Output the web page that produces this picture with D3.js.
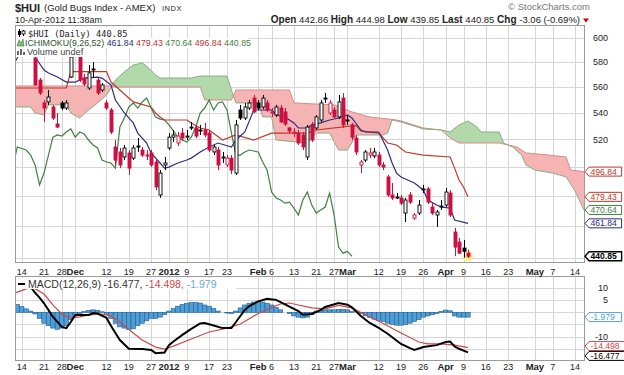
<!DOCTYPE html>
<html>
<head>
<meta charset="utf-8">
<script src="https://d3js.org/d3.v7.min.js"></script>
<style>
  body { margin: 0; background: #fff; }
  svg text { font-family: "Liberation Sans", Arial, sans-serif; fill: #222; }
</style>
</head>
<body>
<div id="chart"></div>
<script>
// ---- data ----
const holidays = ['11/24', '12/26', '1/2', '1/16', '2/20', '4/6'];

const candleStart = '11/11';
const opens = [
  602.6, 602.6, 594.1, 596.6, 583.3, 565.4, 547.4, 548.2, 544.3, 531.4,
  547.4, 543.5, 567.8, 588.2, 585.8, 567.0, 559.1, 573.5, 565.4, 557.5,
  547.4, 542.0, 514.4, 510.8, 507.2, 510.1, 506.4, 515.1, 512.2, 508.6,
  510.1, 503.6, 480.7, 501.5, 513.7, 521.6, 517.3, 524.6, 521.6, 528.4,
  528.4, 526.9, 526.9, 524.6, 510.8, 512.2, 506.4, 501.5, 506.4, 495.8,
  542.0, 535.9, 543.5, 551.2, 547.4, 544.3, 547.4, 540.5, 538.2, 543.5,
  540.5, 528.4, 524.6, 524.6, 523.2, 507.2, 530.7, 528.4, 534.4, 551.2,
  539.7, 542.0, 536.7, 551.2, 534.4, 530.7, 520.9, 501.5, 505.0, 508.6,
  507.9, 508.6, 501.5, 493.1, 480.7, 479.3, 478.7, 468.6, 480.7, 465.3,
  468.6, 484.1, 484.8, 472.6, 467.3, 472.6, 473.9, 482.0, 456.2, 449.8,
  446.0, 442.86
];
const highs = [
  606.8, 604.3, 600.0, 600.0, 585.8, 567.0, 549.7, 557.5, 545.9, 539.7,
  548.9, 549.7, 585.8, 591.6, 588.2, 570.3, 577.5, 580.0, 567.0, 563.0,
  549.7, 543.5, 519.5, 513.7, 515.9, 512.2, 515.9, 521.0, 514.4, 512.2,
  512.2, 505.0, 497.9, 507.2, 524.6, 526.9, 525.4, 528.4, 526.9, 532.9,
  530.7, 530.7, 532.2, 526.9, 515.9, 514.4, 510.8, 508.6, 508.6, 534.4,
  545.9, 547.4, 549.7, 553.6, 549.7, 553.6, 549.7, 543.5, 545.9, 545.9,
  543.5, 529.1, 528.4, 526.9, 525.4, 530.7, 532.9, 538.2, 549.7, 555.2,
  549.7, 544.3, 553.6, 555.2, 538.2, 532.2, 523.2, 505.0, 512.2, 513.7,
  513.7, 510.8, 503.6, 494.5, 488.9, 482.0, 480.7, 478.7, 482.7, 468.6,
  477.3, 487.6, 486.2, 475.2, 470.6, 477.3, 485.5, 484.1, 458.8, 452.4,
  451.1, 444.98
];
const lows = [
  596.6, 591.6, 589.9, 585.8, 560.7, 553.6, 532.9, 545.9, 534.4, 528.4,
  542.0, 542.0, 567.0, 585.0, 563.8, 560.7, 557.5, 567.0, 553.6, 555.9,
  542.0, 523.9, 501.5, 499.3, 505.0, 494.5, 505.0, 510.8, 507.2, 505.0,
  500.0, 484.1, 478.7, 497.9, 512.2, 518.0, 515.1, 518.8, 519.5, 526.9,
  520.9, 523.2, 521.6, 510.8, 508.6, 497.9, 502.9, 500.0, 495.1, 494.5,
  534.4, 534.4, 542.0, 539.7, 542.0, 542.8, 540.5, 536.7, 536.7, 532.2,
  529.9, 524.6, 521.6, 515.9, 512.2, 505.0, 518.0, 526.9, 532.9, 547.4,
  538.2, 535.9, 535.1, 528.4, 530.7, 519.5, 508.6, 495.8, 503.6, 506.4,
  506.4, 500.0, 497.9, 479.3, 477.3, 478.0, 473.9, 462.7, 474.6, 464.0,
  467.3, 482.0, 474.6, 467.3, 459.5, 470.6, 472.6, 466.0, 440.9, 442.2,
  440.0, 439.85
];
const closes = [
  604.3, 594.1, 598.3, 588.2, 561.5, 555.2, 543.5, 552.0, 535.9, 529.1,
  543.5, 547.4, 584.1, 586.6, 565.4, 562.2, 571.1, 574.3, 555.2, 561.5,
  543.5, 525.4, 505.0, 501.5, 513.7, 499.3, 513.7, 514.4, 508.6, 507.9,
  501.5, 486.2, 495.8, 502.9, 521.6, 523.2, 522.4, 520.9, 522.4, 529.1,
  522.4, 526.2, 523.2, 512.2, 514.4, 501.5, 507.2, 506.4, 497.9, 530.7,
  535.9, 544.3, 547.4, 540.5, 543.5, 551.2, 542.0, 539.7, 544.3, 532.9,
  531.4, 526.2, 525.4, 517.3, 514.4, 529.1, 519.5, 536.7, 547.4, 550.5,
  547.4, 536.7, 548.2, 530.7, 533.7, 521.6, 510.8, 503.6, 510.8, 510.1,
  510.8, 501.5, 500.0, 480.7, 478.7, 479.3, 475.2, 477.3, 475.9, 467.3,
  473.9, 484.8, 475.9, 468.6, 469.3, 473.2, 482.7, 467.3, 446.6, 442.8,
  443.91, 440.85
];

// Ichimoku lines, [date, value]
const tenkan = [
  ['11/10', 576.7], ['11/14', 589.9], ['11/15', 594.1], ['11/16', 591.6], ['11/17', 584.1],
  ['11/21', 573.5], ['11/22', 571.1], ['11/25', 567.8], ['11/29', 563.8], ['12/1', 563.8],
  ['12/5', 567.0], ['12/8', 567.8], ['12/9', 567.0], ['12/13', 561.5], ['12/14', 549.7],
  ['12/16', 539.7], ['12/20', 532.2], ['12/21', 524.6], ['12/23', 517.3], ['12/27', 510.1],
  ['12/29', 502.9], ['12/30', 499.3], ['1/3', 500.0], ['1/5', 502.9], ['1/9', 505.0],
  ['1/10', 506.4], ['1/12', 510.8], ['1/17', 514.4], ['1/19', 517.3], ['1/24', 514.4],
  ['1/25', 519.5], ['1/27', 525.4], ['1/31', 542.0], ['2/6', 542.0], ['2/7', 538.2],
  ['2/9', 536.7], ['2/13', 532.2], ['2/14', 528.4], ['2/16', 528.4], ['2/17', 530.7],
  ['2/22', 532.2], ['2/24', 534.4], ['2/28', 535.9], ['3/1', 538.2], ['3/2', 535.9],
  ['3/6', 526.9], ['3/7', 525.4], ['3/12', 525.4], ['3/14', 512.2], ['3/15', 502.9],
  ['3/16', 495.8], ['3/19', 493.1], ['3/22', 488.9], ['3/26', 484.1], ['3/27', 477.3],
  ['3/29', 473.9], ['3/30', 472.6], ['4/3', 471.9], ['4/4', 464.0], ['4/10', 461.84]
];
const kijun = [
  ['11/10', 559.1], ['11/29', 559.1], ['11/30', 572.2], ['12/12', 572.2], ['12/13', 563.8],
  ['12/15', 557.5], ['12/19', 551.2], ['12/20', 548.2], ['12/27', 544.3], ['12/28', 539.7],
  ['12/29', 536.7], ['12/30', 534.4], ['1/9', 534.4], ['1/10', 532.2], ['1/12', 528.4],
  ['1/17', 526.9], ['1/20', 519.5], ['1/25', 523.2], ['1/31', 519.5], ['2/6', 524.6],
  ['2/16', 524.6], ['2/21', 526.9], ['3/2', 529.9], ['3/5', 529.9], ['3/6', 526.2],
  ['3/12', 524.6], ['3/14', 517.3], ['3/16', 515.9], ['3/20', 510.8], ['3/26', 508.6],
  ['4/3', 507.2], ['4/4', 499.3], ['4/5', 491.0], ['4/9', 486.2], ['4/10', 479.43]
];
const senkouA = [
  ['11/10', 544.3], ['11/16', 544.3], ['11/17', 539.7], ['11/21', 538.2], ['11/22', 545.9],
  ['11/29', 545.9], ['11/30', 539.7], ['12/2', 535.9], ['12/6', 542.0], ['12/8', 547.4],
  ['12/12', 553.6], ['12/13', 559.1], ['12/14', 565.4], ['12/16', 571.9], ['12/20', 577.5],
  ['12/22', 579.2], ['12/23', 576.7], ['12/28', 569.5], ['12/29', 567.0], ['1/10', 567.0],
  ['1/12', 568.6], ['1/23', 568.6], ['1/24', 557.5], ['1/25', 547.4], ['2/1', 547.4],
  ['2/2', 536.7], ['2/6', 536.7], ['2/7', 519.5], ['2/16', 517.3], ['2/21', 524.6],
  ['2/24', 524.6], ['2/28', 512.2], ['3/1', 512.2], ['3/5', 523.2], ['3/13', 523.2],
  ['3/14', 524.6], ['3/15', 534.4], ['3/19', 532.9], ['3/26', 527.7], ['3/30', 526.9],
  ['4/3', 525.4], ['4/5', 530.7], ['4/10', 533.7], ['4/12', 529.1], ['4/13', 525.4],
  ['4/19', 525.4], ['4/20', 517.3], ['4/24', 514.4], ['4/26', 508.6], ['4/27', 501.5],
  ['5/1', 497.9], ['5/7', 495.8], ['5/10', 493.1], ['5/14', 483.4], ['5/16', 470.64]
];
const senkouB = [
  ['11/10', 560.7], ['12/13', 560.7], ['12/14', 559.9], ['1/12', 559.9], ['1/13', 549.7],
  ['1/24', 549.7], ['1/25', 557.5], ['2/10', 557.5], ['2/13', 547.4], ['2/27', 545.9],
  ['3/2', 540.5], ['3/8', 536.7], ['3/16', 534.4], ['3/19', 533.7], ['3/26', 528.4],
  ['3/30', 526.9], ['4/3', 521.0], ['4/5', 517.3], ['4/19', 517.3], ['4/25', 514.4],
  ['4/27', 510.1], ['5/4', 508.6], ['5/10', 507.2], ['5/11', 497.9], ['5/16', 496.84]
];
const chikou = [
  ['11/10', 499.3], ['11/11', 514.4], ['11/15', 512.2], ['11/16', 508.6], ['11/17', 501.5],
  ['11/18', 487.6], ['11/21', 495.8], ['11/22', 508.6], ['11/23', 521.6], ['11/25', 523.2],
  ['11/28', 522.4], ['11/29', 525.4], ['11/30', 527.7], ['12/1', 521.6], ['12/2', 525.4],
  ['12/5', 523.9], ['12/6', 519.5], ['12/7', 515.9], ['12/8', 513.7], ['12/9', 505.0],
  ['12/12', 503.6], ['12/13', 502.9], ['12/14', 499.3], ['12/15', 529.1], ['12/16', 535.9],
  ['12/19', 544.3], ['12/20', 547.4], ['12/21', 543.5], ['12/22', 548.2], ['12/23', 551.2],
  ['12/27', 543.5], ['12/28', 536.7], ['12/29', 535.1], ['12/30', 534.4], ['1/3', 530.7],
  ['1/4', 526.2], ['1/5', 521.6], ['1/6', 519.5], ['1/9', 518.0], ['1/10', 521.6],
  ['1/11', 529.1], ['1/12', 539.7], ['1/13', 543.5], ['1/17', 549.7], ['1/18', 542.0],
  ['1/19', 547.4], ['1/20', 548.2], ['1/23', 542.0], ['1/24', 524.6], ['1/25', 508.6],
  ['1/26', 508.6], ['1/27', 510.8], ['1/30', 512.2], ['1/31', 511.5], ['2/1', 510.8],
  ['2/2', 503.6], ['2/3', 497.9], ['2/6', 482.7], ['2/7', 478.7], ['2/8', 477.3],
  ['2/9', 475.2], ['2/10', 475.9], ['2/13', 471.9], ['2/14', 467.3], ['2/15', 477.3],
  ['2/16', 482.7], ['2/17', 473.9], ['2/21', 468.6], ['2/22', 470.6], ['2/23', 472.6],
  ['2/24', 482.0], ['2/27', 467.3], ['2/28', 446.6], ['2/29', 442.8], ['3/1', 443.91],
  ['3/2', 440.85]
];

// MACD(12,26,9)
const macdLine = [
  ['11/10', 11.0], ['11/14', 11.5], ['11/15', 11.2], ['11/16', 10.4], ['11/17', 8.0],
  ['11/18', 6.0], ['11/21', 3.7], ['11/23', -1.9], ['11/28', -6.0], ['11/29', -6.5],
  ['11/30', -4.0], ['12/1', -1.1], ['12/6', -1.1], ['12/7', -0.3], ['12/8', -0.5],
  ['12/12', -2.3], ['12/13', -5.5], ['12/14', -8.5], ['12/15', -11.4], ['12/19', -15.0],
  ['12/22', -15.1], ['12/27', -15.5], ['12/28', -16.8], ['12/30', -16.5], ['1/3', -13.5],
  ['1/4', -12.0], ['1/6', -9.3], ['1/10', -6.8], ['1/12', -4.6], ['1/13', -4.4],
  ['1/18', -5.4], ['1/20', -6.5], ['1/24', -6.5], ['1/25', -4.0], ['1/27', 1.0],
  ['1/30', 2.5], ['2/1', 4.5], ['2/3', 5.5], ['2/7', 5.1], ['2/9', 3.2],
  ['2/14', 0.5], ['2/15', -1.0], ['2/17', -0.7], ['2/22', 1.0], ['2/23', 2.2],
  ['2/28', 3.8], ['3/1', 3.1], ['3/2', 2.0], ['3/6', -1.5], ['3/8', -4.4],
  ['3/12', -6.4], ['3/14', -8.8], ['3/19', -13.0], ['3/21', -14.7], ['3/22', -15.5],
  ['3/26', -14.3], ['3/29', -13.5], ['4/2', -12.2], ['4/3', -12.0], ['4/4', -14.0],
  ['4/5', -15.0], ['4/10', -16.477]
];
const signalLine = [
  ['11/10', 7.5], ['11/11', 8.3], ['11/15', 9.6], ['11/16', 10.0], ['11/17', 9.7],
  ['11/21', 7.5], ['11/23', 3.0], ['11/28', -0.8], ['11/30', -2.3], ['12/2', -1.9],
  ['12/6', -1.1], ['12/9', -0.7], ['12/13', -1.5], ['12/15', -4.0], ['12/20', -8.5],
  ['12/22', -11.4], ['12/28', -14.3], ['12/30', -15.1], ['1/4', -13.9], ['1/10', -11.0],
  ['1/17', -8.1], ['1/23', -6.5], ['1/26', -4.8], ['2/1', -0.5], ['2/6', 2.0],
  ['2/8', 3.4], ['2/10', 3.8], ['2/14', 3.0], ['2/17', 1.8], ['2/23', 1.4],
  ['2/28', 2.8], ['3/2', 1.8], ['3/7', -1.0], ['3/13', -4.6], ['3/19', -8.5],
  ['3/23', -12.2], ['3/27', -13.0], ['3/30', -13.0], ['4/4', -13.5], ['4/10', -14.498]
];
const histStart = '11/10';
const macdHist = [
  3.5, 3.2, 2.3, 1.4, 0.5, -0.7, -2.5, -4.5, -5.5, -6.5,
  -7.0, -6.5, -5.5, -3.0, -1.5, -0.5, 0.3, 0.8, 1.0, 0.8,
  0.2, -1.0, -2.5, -4.5, -6.0, -6.5, -7.0, -6.8, -5.5, -4.5,
  -3.5, -2.5, -2.5, -2.0, -1.0, 0.5, 1.5, 2.5, 3.2, 3.7,
  4.0, 4.0, 3.8, 3.0, 2.5, 1.5, 0.5, 0.0, -0.3, -0.5,
  0.5, 1.8, 3.0, 3.7, 4.2, 4.5, 4.2, 3.7, 3.0, 2.0,
  1.0, 0.0, -0.5, -1.5, -2.0, -2.3, -2.0, -1.0, 0.5, 0.8,
  1.0, 1.0, 1.0, 1.2, 1.2, 1.0, 0.3, 0.0, -0.5, -1.5,
  -2.2, -2.8, -3.3, -3.8, -4.5, -5.0, -5.3, -5.3, -5.0, -4.5,
  -3.8, -3.0, -2.0, -1.5, -1.0, -0.5, 0.3, 0.9, 0.6, -1.5,
  -2.0, -2.0, -1.979
];

const priceTicks = [440, 460, 480, 500, 520, 540, 560, 580, 600];
const macdTicks = [-15, -10, -5, 0, 5, 10];
const tickDates = ['11/14', '11/21', '11/28', '12/1', '12/12', '12/19', '12/27', '1/3', '1/9',
  '1/17', '1/23', '2/1', '2/6', '2/13', '2/21', '2/27', '3/1', '3/12', '3/19', '3/26',
  '4/2', '4/9', '4/16', '4/23', '5/1', '5/7', '5/14'];
const tickLabels = ['14', '21', '28', 'Dec', '12', '19', '27', '2012', '9',
  '17', '23', 'Feb', '6', '13', '21', '27', 'Mar', '12', '19', '26',
  'Apr', '9', '16', '23', 'May', '7', '14'];

// ---- trading calendar ----
const days = [];
for (let d = new Date(2011, 10, 10); d <= new Date(2012, 4, 18); d.setDate(d.getDate() + 1)) {
  const key = (d.getMonth() + 1) + '/' + d.getDate();
  if (d.getDay() === 0 || d.getDay() === 6 || holidays.includes(key)) continue;
  days.push(key);
}
const dayIndex = new Map(days.map((k, i) => [k, i]));
const di = k => dayIndex.get(k);

// ---- layout ----
const width = 624, height = 375;
const main = {left: 15, right: 584, top: 25, bottom: 262};
const lower = {top: 276, bottom: 360};

const svg = d3.select('#chart').append('svg')
  .attr('width', width).attr('height', height);

const x = d3.scaleLinear()
  .domain([di('11/14') - 1.5, di('5/16')])
  .range([main.left, main.right]);
const y = d3.scaleLog().domain([437.3, 611.1]).range([main.bottom, main.top]);
const ym = d3.scaleLinear().domain([-19.6, 14.9]).range([lower.bottom, lower.top]);
const step = x(1) - x(0);

const defs = svg.append('defs');
defs.append('clipPath').attr('id', 'clipMain').append('rect')
  .attr('x', main.left).attr('y', main.top)
  .attr('width', main.right - main.left).attr('height', main.bottom - main.top);
defs.append('clipPath').attr('id', 'clipMacd').append('rect')
  .attr('x', main.left).attr('y', lower.top)
  .attr('width', main.right - main.left).attr('height', lower.bottom - lower.top);

const grid = '#d6d6d6';

// ---- main panel ----
const g = svg.append('g').attr('clip-path', 'url(#clipMain)');

g.selectAll('.hgrid').data(priceTicks).enter().append('line')
  .attr('x1', main.left).attr('x2', main.right)
  .attr('y1', d => Math.round(y(d)) + 0.5).attr('y2', d => Math.round(y(d)) + 0.5)
  .attr('stroke', grid);
g.selectAll('.vgrid').data(tickDates).enter().append('line')
  .attr('x1', d => Math.round(x(di(d))) + 0.5).attr('x2', d => Math.round(x(di(d))) + 0.5)
  .attr('y1', main.top).attr('y2', main.bottom)
  .attr('stroke', grid);

// cloud
const toPts = s => s.map(d => ({i: di(d[0]), py: y(d[1])}));
const ptsA = toPts(senkouA), ptsB = toPts(senkouB);
const interp = pts => i => {
  const j = d3.bisector(p => p.i).right(pts, i);
  if (j <= 0) return pts[0].py;
  if (j >= pts.length) return pts[pts.length - 1].py;
  const a = pts[j - 1], b = pts[j];
  return a.py + (b.py - a.py) * (i - a.i) / (b.i - a.i);
};
const fA = interp(ptsA), fB = interp(ptsB);
const cloudIdx = Array.from(new Set(ptsA.concat(ptsB).map(p => p.i))).sort((a, b) => a - b);
const cloud = cloudIdx.map(i => ({i, a: fA(i), b: fB(i)}));

defs.append('clipPath').attr('id', 'aboveB').append('path')
  .attr('d', d3.area().x(d => x(d.i)).y0(main.top).y1(d => d.b)(cloud));
defs.append('clipPath').attr('id', 'belowB').append('path')
  .attr('d', d3.area().x(d => x(d.i)).y0(main.bottom).y1(d => d.b)(cloud));
const band = d3.area().x(d => x(d.i)).y0(d => d.a).y1(d => d.b);
g.append('path').attr('d', band(cloud)).attr('fill', '#b2d9a9').attr('clip-path', 'url(#aboveB)');
g.append('path').attr('d', band(cloud)).attr('fill', '#f6b3b3').attr('clip-path', 'url(#belowB)');

const line = d3.line().x(d => x(di(d[0]))).y(d => y(d[1]));
g.append('path').datum(senkouB).attr('d', line).attr('fill', 'none').attr('stroke', '#d88a8a').attr('stroke-width', 1);
g.append('path').datum(senkouA).attr('d', line).attr('fill', 'none').attr('stroke', '#86ad86').attr('stroke-width', 1);
g.append('path').datum(chikou).attr('d', line).attr('fill', 'none').attr('stroke', '#3f7f3f').attr('stroke-width', 1.2);
g.append('path').datum(kijun).attr('d', line).attr('fill', 'none').attr('stroke', '#c0392b').attr('stroke-width', 1.2);
g.append('path').datum(tenkan).attr('d', line).attr('fill', 'none').attr('stroke', '#2d2d7d').attr('stroke-width', 1.2);

// candles
const red = '#cc1040';
const candles = opens.map((o, k) => ({
  i: di(candleStart) + k, o, h: highs[k], l: lows[k], c: closes[k],
  prev: k ? closes[k - 1] : o
}));
const last = candles[candles.length - 1];
g.append('circle').attr('cx', x(last.i)).attr('cy', y(last.c)).attr('r', 5)
  .attr('fill', '#fff07a').attr('opacity', 0.9);

const cg = g.selectAll('.candle').data(candles).enter().append('g');
cg.append('line')
  .attr('x1', d => Math.round(x(d.i)) + 0.5).attr('x2', d => Math.round(x(d.i)) + 0.5)
  .attr('y1', d => y(d.h)).attr('y2', d => y(d.l))
  .attr('stroke', d => d.c < d.prev ? red : '#000');
cg.append('rect')
  .attr('x', d => Math.round(x(d.i)) - 1)
  .attr('width', 3)
  .attr('y', d => y(Math.max(d.o, d.c)))
  .attr('height', d => Math.max(1, Math.abs(y(d.o) - y(d.c))))
  .attr('fill', d => d.c > d.o ? '#fff' : (d.c < d.prev ? red : '#000'))
  .attr('stroke', d => d.c < d.prev ? red : '#000')
  .attr('stroke-width', 0.9);

svg.append('rect').attr('x', main.left + 0.5).attr('y', main.top + 0.5)
  .attr('width', main.right - main.left).attr('height', main.bottom - main.top)
  .attr('fill', 'none').attr('stroke', '#9a9a9a');

// legend boxes
svg.append('rect').attr('x', main.left + 1).attr('y', 27).attr('width', 115).attr('height', 11).attr('fill', '#fff');
svg.append('rect').attr('x', main.left + 1).attr('y', 38).attr('width', 232).attr('height', 10).attr('fill', '#fff');
svg.append('rect').attr('x', main.left + 1).attr('y', 48).attr('width', 68).attr('height', 9).attr('fill', '#fff');

// icons
svg.append('line').attr('x1', 19.5).attr('x2', 19.5).attr('y1', 29).attr('y2', 37).attr('stroke', '#000');
svg.append('rect').attr('x', 18).attr('y', 31).attr('width', 3).attr('height', 4).attr('fill', '#000');
svg.append('line').attr('x1', 23.5).attr('x2', 23.5).attr('y1', 30).attr('y2', 36).attr('stroke', '#000');
svg.append('rect').attr('x', 22).attr('y', 31).attr('width', 3).attr('height', 3).attr('fill', '#fff').attr('stroke', '#000').attr('stroke-width', 0.8);
svg.append('path').attr('d', 'M17,46 L19,40 L21,43 L23,39 L24,46 Z').attr('fill', '#7fb87f').attr('stroke', '#3f7f3f').attr('stroke-width', 0.6);
svg.append('path').attr('d', 'M17,55 V51 H19 V55 M20,55 V49 H22 V55 M23,55 V52 H25 V55').attr('fill', '#666');

svg.append('text').attr('x', 28).attr('y', 36.5)
  .style('font-family', '"DejaVu Sans Mono", monospace').style('font-size', '8.7px')
  .text('$HUI (Daily) ' + last.c.toFixed(2));
const ich = svg.append('text').attr('x', 25).attr('y', 46).style('font-size', '8.8px');
ich.append('tspan').text('ICHIMOKU(9,26,52) ').style('fill', '#2f4f2f');
ich.append('tspan').text(tenkan[tenkan.length - 1][1].toFixed(2) + ' ').style('fill', '#2d2d7d');
ich.append('tspan').text(kijun[kijun.length - 1][1].toFixed(2) + ' ').style('fill', '#c0392b');
ich.append('tspan').text(senkouA[senkouA.length - 1][1].toFixed(2) + ' ').style('fill', '#3f7f3f');
ich.append('tspan').text(senkouB[senkouB.length - 1][1].toFixed(2) + ' ').style('fill', '#c0392b');
ich.append('tspan').text(chikou[chikou.length - 1][1].toFixed(2)).style('fill', '#3f7f3f');
svg.append('text').attr('x', 27).attr('y', 55).style('font-size', '9.2px').style('fill', '#444').text('Volume undef');

// ---- MACD panel ----
const mg = svg.append('g').attr('clip-path', 'url(#clipMacd)');
mg.selectAll('.hgrid').data(macdTicks).enter().append('line')
  .attr('x1', main.left).attr('x2', main.right)
  .attr('y1', d => Math.round(ym(d)) + 0.5).attr('y2', d => Math.round(ym(d)) + 0.5)
  .attr('stroke', grid);
mg.selectAll('.vgrid').data(tickDates).enter().append('line')
  .attr('x1', d => Math.round(x(di(d))) + 0.5).attr('x2', d => Math.round(x(di(d))) + 0.5)
  .attr('y1', lower.top).attr('y2', lower.bottom)
  .attr('stroke', grid);

mg.selectAll('.bar').data(macdHist).enter().append('rect')
  .attr('x', (d, k) => x(di(histStart) + k) - step / 2)
  .attr('width', step)
  .attr('y', d => Math.min(ym(0), ym(d)))
  .attr('height', d => Math.abs(ym(d) - ym(0)))
  .attr('fill', '#4f9fd6').attr('stroke', '#1d5e94').attr('stroke-width', 0.6);

const mline = d3.line().x(d => x(di(d[0]))).y(d => ym(d[1]));
mg.append('path').datum(signalLine).attr('d', mline).attr('fill', 'none').attr('stroke', '#d04848').attr('stroke-width', 1.2);
mg.append('path').datum(macdLine).attr('d', mline).attr('fill', 'none').attr('stroke', '#000').attr('stroke-width', 2);

svg.append('rect').attr('x', main.left + 0.5).attr('y', lower.top + 0.5)
  .attr('width', main.right - main.left).attr('height', lower.bottom - lower.top)
  .attr('fill', 'none').attr('stroke', '#9a9a9a');

svg.append('rect').attr('x', main.left + 1).attr('y', 278).attr('width', 220).attr('height', 11).attr('fill', '#fff');
svg.append('line').attr('x1', 18).attr('x2', 25).attr('y1', 284).attr('y2', 284).attr('stroke', '#000').attr('stroke-width', 2);
const ml = svg.append('text').attr('x', 28).attr('y', 288).style('font-size', '10.5px');
ml.append('tspan').text('MACD(12,26,9) ' + macdLine[macdLine.length - 1][1].toFixed(3) + ', ').style('fill', '#333');
ml.append('tspan').text(signalLine[signalLine.length - 1][1].toFixed(3) + ', ').style('fill', '#d04848');
ml.append('tspan').text(macdHist[macdHist.length - 1].toFixed(3)).style('fill', '#6aa9d4');

// ---- x axis labels ----
[274.5, 370].forEach(yy => {
  svg.selectAll(null).data(tickDates).enter().append('text')
    .attr('x', d => x(di(d))).attr('y', yy)
    .attr('text-anchor', 'middle')
    .style('font-size', (d, k) => isNaN(+tickLabels[k]) || tickLabels[k] === '2012' ? '9.5px' : '9px')
    .style('font-weight', (d, k) => isNaN(+tickLabels[k]) || tickLabels[k] === '2012' ? 'bold' : 'normal')
    .text((d, k) => tickLabels[k]);
});

// ---- value tags on the right ----
const lastOf = s => s[s.length - 1][1];
const mainTags = [
  {v: lastOf(senkouB), color: '#c0392b'},
  {v: lastOf(kijun), color: '#c0392b'},
  {v: lastOf(senkouA), color: '#3f7f3f'},
  {v: lastOf(tenkan), color: '#2d2d7d'},
  {v: last.c, color: '#000', bold: true}
].map(t => ({...t, y: y(t.v), label: t.v.toFixed(2)}));
const lastHist = macdHist[macdHist.length - 1];
const macdTags = [
  {v: lastHist, color: '#5a9ecf', y: ym(lastHist)},
  {v: lastOf(signalLine), color: '#d04848', y: ym(lastOf(signalLine)) - 1.5},
  {v: lastOf(macdLine), color: '#000', y: ym(lastOf(macdLine)) + 3.5}
].map(t => ({...t, label: t.v.toFixed(3)}));

// y tick labels, left out where a value tag covers them (as in the original)
const clear = (yy, tags) => tags.every(t => Math.abs(t.y - yy) > 9);
svg.selectAll('.ylab').data(priceTicks.filter(d => clear(y(d), mainTags))).enter().append('text')
  .attr('x', 608).attr('y', d => y(d) + 3.2).attr('text-anchor', 'end')
  .style('font-size', '9px').text(d => d);
svg.selectAll('.mlab').data(macdTicks.filter(d => clear(ym(d), macdTags))).enter().append('text')
  .attr('x', 608).attr('y', d => ym(d) + 3.2).attr('text-anchor', 'end')
  .style('font-size', '9px').text(d => d);

function tag(t) {
  const w = t.label.length * 4.6 + 5;
  const yp = t.y;
  svg.append('path')
    .attr('d', `M585,${yp} L589,${yp - 4.5} L${589 + w},${yp - 4.5} L${589 + w},${yp + 4.5} L589,${yp + 4.5} Z`)
    .attr('fill', '#fff').attr('stroke', t.color).attr('stroke-width', t.bold ? 1.4 : 1);
  svg.append('text').attr('x', 590.5).attr('y', yp + 3.1)
    .style('font-size', '8.6px').style('font-weight', t.bold ? 'bold' : 'normal')
    .style('fill', t.color).text(t.label);
}
mainTags.forEach(tag);
macdTags.forEach(tag);

// ---- header ----
svg.append('text').attr('x', 15).attr('y', 11.5).style('font-size', '11px').style('font-weight', 'bold').text('$HUI');
svg.append('text').attr('x', 44).attr('y', 11).style('font-size', '9.5px').text('(Gold Bugs Index - AMEX)');
svg.append('text').attr('x', 162).attr('y', 11).style('font-size', '7.5px').style('letter-spacing', '0.5px').text('INDX');
svg.append('text').attr('x', 590).attr('y', 10).attr('text-anchor', 'end').style('font-size', '9.5px').style('fill', '#777').text('\u00a9 StockCharts.com');
svg.append('text').attr('x', 15).attr('y', 23).style('font-size', '9px').text('10-Apr-2012 11:38am');

const chg = last.c - closes[closes.length - 2];
const ohlc = svg.append('text').attr('x', 580).attr('y', 23).attr('text-anchor', 'end').style('font-size', '9.5px');
[['Open', last.o], ['High', last.h], ['Low', last.l], ['Last', last.c]].forEach(([k, v]) => {
  ohlc.append('tspan').text(k + ' ').style('font-weight', 'bold').style('font-size', '10px');
  ohlc.append('tspan').text(v.toFixed(2) + ' ');
});
ohlc.append('tspan').text('Chg ').style('font-weight', 'bold').style('font-size', '10px');
ohlc.append('tspan').text(chg.toFixed(2) + ' (' + (chg / closes[closes.length - 2] * 100).toFixed(2) + '%)');
svg.append('path').attr('d', 'M583,18.5 L589,18.5 L586,22.5 Z').attr('fill', '#c00');
</script>
</body>
</html>
